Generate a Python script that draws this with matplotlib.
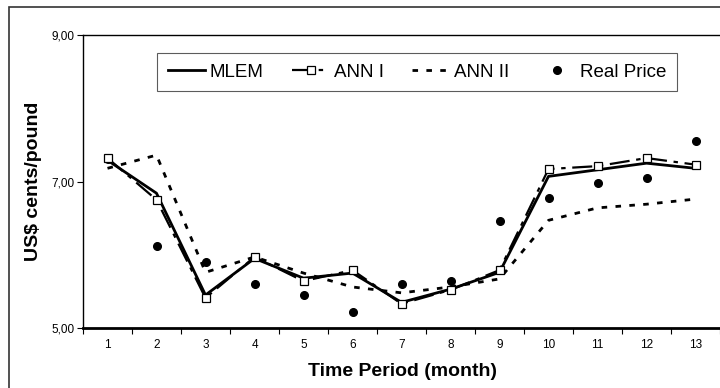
import matplotlib.pyplot as plt
from matplotlib.patches import Rectangle

plt.rcParams['font.family'] = ['Liberation Sans', 'DejaVu Sans']

# 데이터
months = list(range(1, 14))
mlem = [7.29, 6.84, 5.45, 5.95, 5.68, 5.75, 5.35, 5.53, 5.76, 7.07, 7.16, 7.25, 7.18]
ann1 = [7.32, 6.75, 5.41, 5.97, 5.64, 5.79, 5.33, 5.52, 5.79, 7.17, 7.21, 7.32, 7.23]
ann2 = [7.18, 7.36, 5.76, 5.97, 5.75, 5.56, 5.48, 5.56, 5.67, 6.47, 6.64, 6.69, 6.76]
real = [7.31, 6.12, 5.90, 5.60, 5.45, 5.22, 5.60, 5.64, 6.46, 6.78, 6.98, 7.05, 7.55]
yticks = [5, 7, 9]
ytick_labels = ['5,00', '7,00', '9,00']

fig = plt.figure(figsize=(7.2, 3.88), dpi=100)
ax = fig.add_axes([83/720, 1-328/388, 1-83/720, (328-35)/388])

ax.plot(months, real, 'o', color='black', markersize=5.5, label='Real Price', zorder=2)
ax.plot(months, mlem, '-', color='black', lw=2.0, label='MLEM', zorder=3)
ax.plot(months, ann1, color='black', lw=1.6, dashes=(9, 3, 2, 3), marker='s',
        markersize=6, markerfacecolor='white', markeredgecolor='black',
        markeredgewidth=0.9, label='ANN I', zorder=4)
ax.plot(months, ann2, color='black', lw=2.0, dashes=(2.0, 3.0), label='ANN II', zorder=3)

ax.set_xlim(0.5, 0.5 + (720-83)/49.4)
ax.set_ylim(5, 9)
ax.set_yticks(yticks)
ax.set_yticklabels(ytick_labels, fontsize=8.5)
ax.set_xticks(months)
ax.set_xticklabels([str(m) for m in months], fontsize=8.5)
ax.set_xticks([m + 0.5 for m in range(0, 14)], minor=True)
ax.tick_params(axis='x', which='major', length=0, pad=8)
ax.tick_params(axis='x', which='minor', length=4, width=0.8, direction='out')
ax.tick_params(axis='y', length=4, width=0.8, direction='out', pad=2)
ax.spines['right'].set_visible(False)
ax.spines['bottom'].set_linewidth(2.0)
ax.spines['top'].set_linewidth(1.0)
ax.spines['left'].set_linewidth(1.0)

ax.set_xlabel('Time Period (month)', fontsize=14, fontweight='bold')
ax.set_ylabel('US$ cents/pound', fontsize=14, fontweight='bold')
ax.xaxis.set_label_coords((403-83)/(720-83), -0.119)
ax.yaxis.set_label_coords(-0.064, 0.5)

h, l = ax.get_legend_handles_labels()
order = [1, 2, 3, 0]
leg = fig.legend([h[i] for i in order], [l[i] for i in order], ncol=4,
                 loc='center', bbox_to_anchor=(417/720, 1-72/388), fontsize=13.5,
                 frameon=True, fancybox=False, edgecolor='#333333',
                 handlelength=2.0, columnspacing=1.5, handletextpad=0.25,
                 borderpad=0.55)
leg.get_frame().set_linewidth(0.8)

fig.patches.append(Rectangle((9/720, -0.2), 2, 1.2 - 7/388, transform=fig.transFigure,
                             fill=False, edgecolor='#333333', lw=1.2))

fig.savefig('out.png', dpi=100)
